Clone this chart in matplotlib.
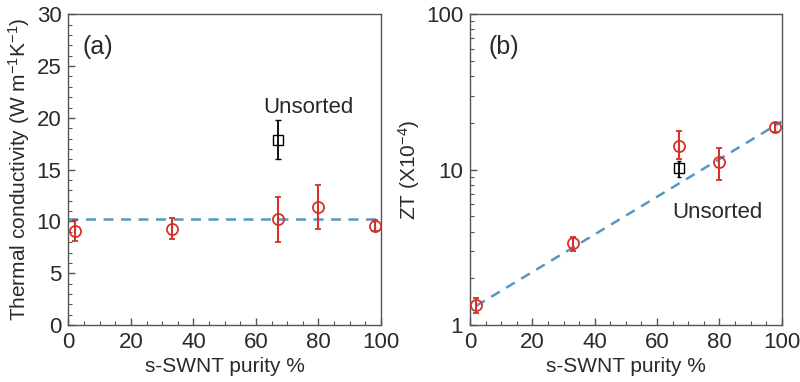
import matplotlib
matplotlib.use("Agg")
import matplotlib.pyplot as plt
import numpy as np
from matplotlib.ticker import MultipleLocator, LogLocator, NullFormatter, FixedLocator

plt.rcParams['font.family'] = ['Liberation Sans', 'DejaVu Sans']
plt.rcParams['mathtext.fontset'] = 'custom'
plt.rcParams['mathtext.rm'] = 'Liberation Sans'
plt.rcParams['mathtext.it'] = 'Liberation Sans:italic'
plt.rcParams['mathtext.bf'] = 'Liberation Sans:bold'
plt.rcParams['mathtext.default'] = 'regular'

purity = [2, 33, 67, 80, 98]
kappa = [9.1, 9.3, 10.2, 11.4, 9.6]
kappa_err = [1.0, 1.0, 2.2, 2.1, 0.5]
unsorted_x = [67]
kappa_unsorted = [17.9]
kappa_unsorted_err = [1.9]
kappa_fit = 10.2

zt = [1.35, 3.39, 14.3, 11.25, 18.9]
zt_err_lo = [0.16, 0.39, 2.5, 2.67, 1.5]
zt_err_hi = [0.15, 0.31, 3.5, 2.55, 1.2]
zt_unsorted = [10.2]
zt_unsorted_lo = [1.2]
zt_unsorted_hi = [1.2]
zt_fit_x = [2, 100]
zt_fit_y = [1.33, 20.4]

red = '#d2332a'
blue = '#5797c4'
spine_c = '#555555'
txt_c = '#2a2a2a'
fs_tick = 16
fs_lab = 15
fs_ann = 16

fig = plt.figure(figsize=(8, 3.82), dpi=100)
ax1 = fig.add_axes([0.0856, 0.149, 0.3905, 0.8135])
ax2 = fig.add_axes([0.5875, 0.149, 0.3896, 0.8135])

# (a)
ax1.axhline(kappa_fit, color=blue, ls=(0, (4, 3)), lw=1.8, zorder=1)
ax1.errorbar(purity, kappa, yerr=kappa_err, fmt='o', mfc='none', mec=red, ecolor=red,
             ms=8, mew=1.3, elinewidth=1.5, capsize=2, capthick=1.3, zorder=3)
ax1.errorbar(unsorted_x, kappa_unsorted, yerr=kappa_unsorted_err, fmt='s', mfc='none', mec='black',
             ecolor='black', ms=7, mew=1.0, elinewidth=1.3, capsize=2, capthick=1.1, zorder=3)
ax1.set_xlim(0, 100)
ax1.set_ylim(0, 30)
ax1.xaxis.set_major_locator(MultipleLocator(20))
ax1.xaxis.set_minor_locator(MultipleLocator(5))
ax1.yaxis.set_major_locator(MultipleLocator(5))
ax1.yaxis.set_minor_locator(MultipleLocator(1))
ax1.set_xlabel('s-SWNT purity %', fontsize=fs_lab, color=txt_c, labelpad=3)
ax1.set_ylabel('Thermal conductivity (W m$^{-1}$K$^{-1}$)', fontsize=fs_lab, color=txt_c, labelpad=3)
ax1.text(0.045, 0.935, '(a)', transform=ax1.transAxes, fontsize=18, va='top', ha='left', color=txt_c)
ax1.text(62.5, 21.0, 'Unsorted', fontsize=fs_ann, ha='left', va='center', color=txt_c)

# (b)
ax2.plot(zt_fit_x, zt_fit_y, color=blue, ls=(0, (4, 3)), lw=1.8, zorder=1)
ax2.errorbar(purity, zt, yerr=[zt_err_lo, zt_err_hi], fmt='o', mfc='none', mec=red, ecolor=red,
             ms=8, mew=1.3, elinewidth=1.5, capsize=2, capthick=1.3, zorder=3)
ax2.errorbar(unsorted_x, zt_unsorted, yerr=[zt_unsorted_lo, zt_unsorted_hi], fmt='s', mfc='none',
             mec='black', ecolor='black', ms=6.5, mew=1.0, elinewidth=1.3, capsize=1.5, capthick=1.1, zorder=3)
ax2.set_yscale('log')
ax2.set_xlim(0, 100)
ax2.set_ylim(1, 100)
ax2.xaxis.set_major_locator(MultipleLocator(20))
ax2.xaxis.set_minor_locator(MultipleLocator(5))
ax2.yaxis.set_major_locator(FixedLocator([1, 10, 100]))
ax2.yaxis.set_minor_locator(LogLocator(base=10, subs=np.arange(2, 10)))
ax2.yaxis.set_minor_formatter(NullFormatter())
ax2.set_yticklabels(['1', '10', '100'])
ax2.set_xlabel('s-SWNT purity %', fontsize=fs_lab, color=txt_c, labelpad=3)
ax2.set_ylabel('ZT (X10$^{-4}$)', fontsize=fs_lab, color=txt_c, labelpad=3)
ax2.text(0.06, 0.935, '(b)', transform=ax2.transAxes, fontsize=18, va='top', ha='left', color=txt_c)
ax2.text(65.0, 5.3, 'Unsorted', fontsize=fs_ann, ha='left', va='center', color=txt_c)

for ax in (ax1, ax2):
    for s in ax.spines.values():
        s.set_color(spine_c)
        s.set_linewidth(1.0)
    ax.tick_params(which='both', direction='in', top=False, right=False, color=spine_c,
                   labelsize=fs_tick, labelcolor=txt_c)
    ax.tick_params(which='major', length=5, width=1.0, pad=5)
    ax.tick_params(which='minor', length=3, width=0.8)

fig.savefig('out.png', dpi=100, facecolor='white')
